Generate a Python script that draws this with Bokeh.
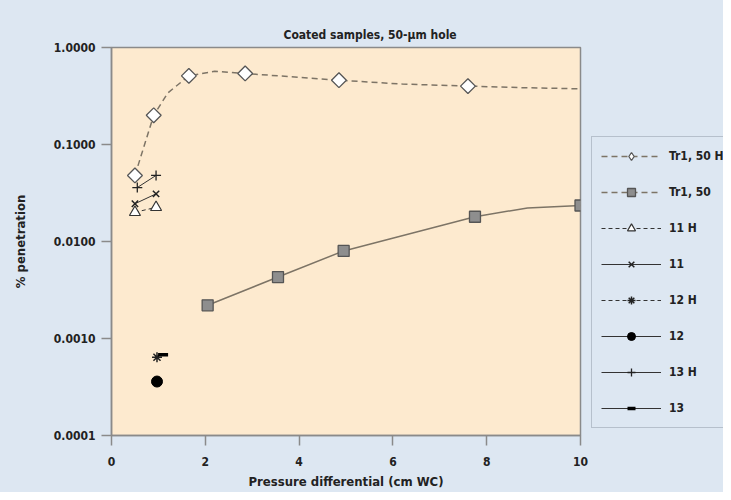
import math
from bokeh.plotting import figure
from bokeh.layouts import row
from bokeh.models import FixedTicker, CustomJSTickFormatter, Legend, LegendItem, Range1d
from bokeh.embed import file_html
from bokeh.resources import INLINE

# ---- data ----
tr1_50h_x = [0.5, 0.9, 1.65, 2.85, 4.85, 7.6]
tr1_50h_y = [0.048, 0.20, 0.51, 0.54, 0.46, 0.40]
tr1_50h_curve_x = [0.5, 0.9, 1.2, 1.65, 2.2, 2.85, 3.8, 4.85, 6.2, 7.6, 8.8, 10.0]
tr1_50h_curve_y = [0.048, 0.20, 0.34, 0.51, 0.57, 0.54, 0.50, 0.46, 0.42, 0.40, 0.385, 0.375]

tr1_50_x = [2.05, 3.55, 4.95, 7.75, 10.0]
tr1_50_y = [0.0022, 0.0043, 0.0080, 0.018, 0.0235]
tr1_50_curve_x = [2.05, 3.55, 4.95, 7.75, 8.87, 10.0]
tr1_50_curve_y = [0.0022, 0.0043, 0.0080, 0.018, 0.0222, 0.0235]

s11h_x = [0.5, 0.95]
s11h_y = [0.020, 0.0225]
s11_x = [0.5, 0.95]
s11_y = [0.0245, 0.031]
s12h_x = [0.97]
s12h_y = [0.00064]
s12_x = [0.97]
s12_y = [0.00036]
s13h_x = [0.55, 0.95]
s13h_y = [0.036, 0.048]
s13_x = [1.1]
s13_y = [0.00068]

series_labels = ["Tr1, 50 H", "Tr1, 50", "11 H", "11", "12 H", "12", "13 H", "13"]
x_ticks = [0, 2, 4, 6, 8, 10]
y_ticks = [0.0001, 0.001, 0.01, 0.1, 1.0]

FONT = "DejaVu Sans Condensed"
BG = "#dde7f2"
PLOT_BG = "#fdeacf"
TXT = "#222222"
LINE_T = "#7d7466"
DARK = "#333333"


def add_series(f, legend_style=False):
    """Draw all series on figure f; return list of (line, marker) per series."""
    out = []
    l = f.line(tr1_50h_curve_x, tr1_50h_curve_y, line_color=LINE_T, line_width=1.5, line_dash="6 4")
    if legend_style:
        m = f.scatter(tr1_50h_x, tr1_50h_y, marker="diamond", size=15,
                      fill_color="white", line_color="#555555", line_width=1.3)
    else:
        m = f.scatter(tr1_50h_x, tr1_50h_y, marker="square", angle=math.pi / 4, size=10.5,
                      fill_color="white", line_color="#555555", line_width=1.3)
    out.append((l, m))
    l = f.line(tr1_50_curve_x, tr1_50_curve_y, line_color=LINE_T, line_width=1.5,
               line_dash="6 4" if legend_style else "solid")
    m = f.scatter(tr1_50_x, tr1_50_y, marker="square", size=11, fill_color="#8e8e8e",
                  line_color="#555555", line_width=1.3)
    out.append((l, m))
    l = f.line(s11h_x, s11h_y, line_color=DARK, line_width=1, line_dash="4 3")
    m = f.scatter(s11h_x, s11h_y, marker="triangle", size=11, fill_color="white",
                  line_color="#333333", line_width=1.2)
    out.append((l, m))
    l = f.line(s11_x, s11_y, line_color=DARK, line_width=1)
    m = f.scatter(s11_x, s11_y, marker="x", size=9, line_color="#222222", line_width=1.5)
    out.append((l, m))
    l = f.line(s12h_x, s12h_y, line_color=DARK, line_width=1, line_dash="4 3")
    m = f.scatter(s12h_x, s12h_y, marker="asterisk", size=10, line_color="#222222", line_width=1.5)
    out.append((l, m))
    l = f.line(s12_x, s12_y, line_color=DARK, line_width=1)
    m = f.scatter(s12_x, s12_y, marker="circle", size=11, fill_color="black", line_color="black")
    out.append((l, m))
    l = f.line(s13h_x, s13h_y, line_color=DARK, line_width=1)
    m = f.scatter(s13h_x, s13h_y, marker="cross", size=10, line_color="#222222", line_width=1.3)
    out.append((l, m))
    l = f.line(s13_x, s13_y, line_color=DARK, line_width=1)
    m = f.scatter(s13_x, s13_y, marker="dash", size=10, line_color="black", line_width=3.5)
    out.append((l, m))
    return out


# ---------------- main plot ----------------
p = figure(width=590, height=492, y_axis_type="log",
           x_range=(0, 10), y_range=(0.0001, 1.0),
           output_backend="svg", toolbar_location=None,
           min_border_left=111, min_border_right=10,
           min_border_top=47, min_border_bottom=57)

p.background_fill_color = PLOT_BG
p.border_fill_color = BG
p.outline_line_color = "#8a8a8a"
p.outline_line_width = 1.5
p.grid.visible = False

p.title.text = "Coated samples, 50-\u03bcm hole"
p.title.align = "left"
p.title.offset = 172
p.title.text_font = FONT
p.title.text_font_size = "12px"
p.title.text_font_style = "bold"
p.title.text_color = TXT
p.title.standoff = 12

for ax in (p.xaxis[0], p.yaxis[0]):
    ax.axis_line_color = "#8a8a8a"
    ax.axis_line_width = 1.5
    ax.major_tick_line_color = "#8a8a8a"
    ax.major_tick_line_width = 1.5
    ax.major_tick_in = 0
    ax.major_tick_out = 10
    ax.minor_tick_line_color = None
    ax.major_label_text_font = FONT
    ax.major_label_text_font_size = "12px"
    ax.major_label_text_font_style = "bold"
    ax.major_label_text_color = TXT
    ax.axis_label_text_font = FONT
    ax.axis_label_text_font_size = "13px"
    ax.axis_label_text_font_style = "bold"
    ax.axis_label_text_color = TXT

p.xaxis.ticker = FixedTicker(ticks=x_ticks)
p.yaxis.ticker = FixedTicker(ticks=y_ticks)
p.yaxis.formatter = CustomJSTickFormatter(code="return tick.toFixed(4)")
p.xaxis.axis_label = "Pressure differential (cm WC)"
p.yaxis.axis_label = "% penetration"
p.xaxis.major_label_standoff = 11
p.xaxis.axis_label_standoff = 5
p.yaxis.major_label_standoff = 6
p.yaxis.axis_label_standoff = 23

add_series(p)

# ---------------- legend panel ----------------
lf = figure(width=133, height=492, output_backend="svg", toolbar_location=None,
            x_range=Range1d(100, 101), y_range=Range1d(0, 1),
            x_axis_location=None, y_axis_location=None,
            min_border_left=0, min_border_right=0, min_border_top=0, min_border_bottom=0)
lf.grid.visible = False
lf.outline_line_color = None
lf.background_fill_color = BG
lf.border_fill_color = BG

legend_renderers = add_series(lf, legend_style=True)
items = [LegendItem(label=lab, renderers=[l, m])
         for lab, (l, m) in zip(series_labels, legend_renderers)]
legend = Legend(items=items, location=(1, 7),
                glyph_width=60, glyph_height=20, spacing=16,
                padding=9, margin=0, label_standoff=8,
                label_text_font=FONT, label_text_font_size="12px",
                label_text_font_style="bold", label_text_color=TXT,
                background_fill_color=BG, background_fill_alpha=1.0,
                border_line_color="#8f9aa6", border_line_width=1.5)
lf.add_layout(legend, "center")

layout = row(p, lf, spacing=0, styles={"background-color": BG})
open("out.html", "w").write(file_html(layout, INLINE))
